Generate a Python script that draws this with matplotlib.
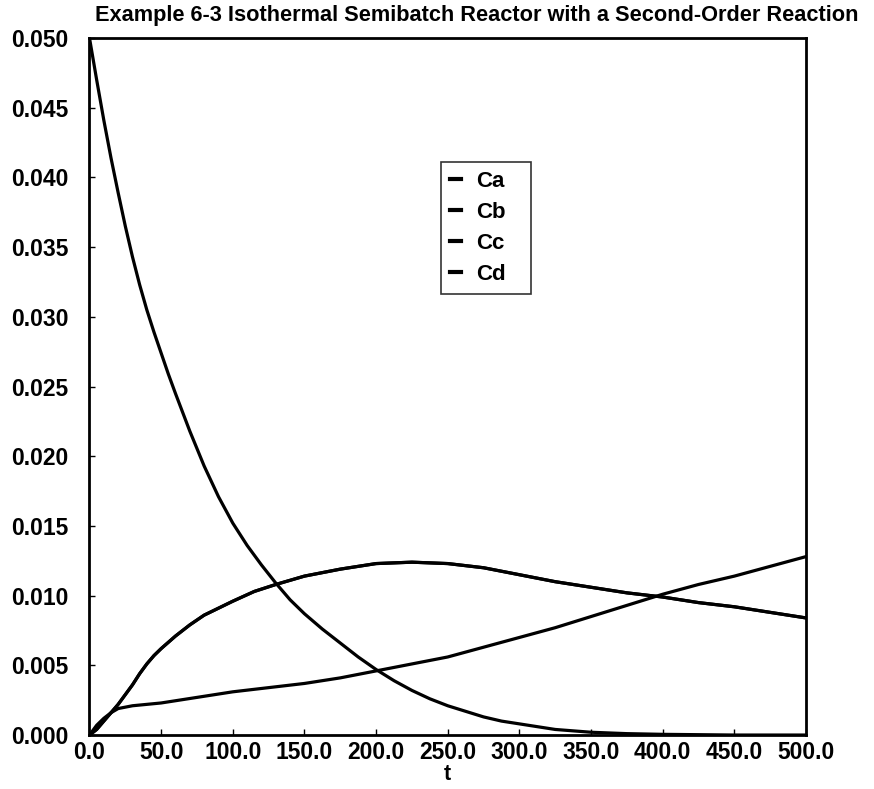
import matplotlib
matplotlib.use("Agg")
import matplotlib.pyplot as plt
from matplotlib.ticker import FixedLocator, FormatStrFormatter

plt.rcParams['font.family'] = ['Liberation Sans', 'DejaVu Sans']

title = "Example 6-3 Isothermal Semibatch Reactor with a Second-Order Reaction"
x_label = "t"

t_a = [0, 5, 10, 15, 20, 25, 30, 35, 40, 45, 50, 55, 60, 70, 80, 90, 100,
       110, 120, 130, 140, 150, 162.5, 175, 187.5, 200, 212.5, 225, 237.5,
       250, 262.5, 275, 287.5, 300, 325, 350, 375, 400, 450, 500]
ca = [0.0500, 0.0470, 0.0441, 0.0414, 0.0389, 0.0365, 0.0343, 0.0323, 0.0305,
      0.0289, 0.0274, 0.0259, 0.0245, 0.0218, 0.0193, 0.0171, 0.0152, 0.0136,
      0.0122, 0.0109, 0.0097, 0.0087, 0.0076, 0.0066, 0.0056, 0.0047, 0.0039,
      0.0032, 0.0026, 0.0021, 0.0017, 0.0013, 0.0010, 0.0008, 0.0004, 0.0002,
      0.0001, 0.00005, 0.0, 0.0]

t_b = [0, 5, 10, 15, 20, 30, 40, 50, 75, 100, 125, 150, 175, 200, 225, 250,
       275, 300, 325, 350, 375, 400, 425, 450, 475, 500]
cb = [0.0, 0.0007, 0.0012, 0.0016, 0.0019, 0.0021, 0.0022, 0.0023, 0.0027,
      0.0031, 0.0034, 0.0037, 0.0041, 0.0046, 0.0051, 0.0056, 0.0063, 0.0070,
      0.0077, 0.0085, 0.0093, 0.0101, 0.0108, 0.0114, 0.0121, 0.0128]

t_c = [0, 5, 10, 15, 20, 25, 30, 35, 40, 45, 50, 60, 70, 80, 90, 100, 115,
       130, 150, 175, 200, 225, 250, 275, 300, 325, 350, 375, 400, 425, 450,
       475, 500]
cc = [0.0, 0.0004, 0.0010, 0.0016, 0.0022, 0.0029, 0.0036, 0.0044, 0.0051,
      0.0057, 0.0062, 0.0071, 0.0079, 0.0086, 0.0091, 0.0096, 0.0103, 0.0108,
      0.0114, 0.0119, 0.0123, 0.0124, 0.0123, 0.0120, 0.0115, 0.0110, 0.0106,
      0.0102, 0.0099, 0.0095, 0.0092, 0.0088, 0.0084]
cd = list(cc)

x_ticks = [0, 50, 100, 150, 200, 250, 300, 350, 400, 450, 500]
y_ticks = [0.000, 0.005, 0.010, 0.015, 0.020, 0.025, 0.030, 0.035, 0.040,
           0.045, 0.050]

fig = plt.figure(figsize=(8.74, 7.89), dpi=100)
ax = fig.add_axes([0.1024, 0.0684, 0.8198, 0.8834])

lw = 2.3
ax.plot(t_a, ca, color='black', lw=lw, label='Ca')
ax.plot(t_b, cb, color='black', lw=lw, label='Cb')
ax.plot(t_c, cc, color='black', lw=lw, label='Cc')
ax.plot(t_c, cd, color='black', lw=lw, label='Cd')

ax.set_xlim(0, 500)
ax.set_ylim(0, 0.050)
ax.xaxis.set_major_locator(FixedLocator(x_ticks))
ax.yaxis.set_major_locator(FixedLocator(y_ticks))
ax.xaxis.set_major_formatter(FormatStrFormatter('%.1f'))
ax.yaxis.set_major_formatter(FormatStrFormatter('%.3f'))
ax.tick_params(axis='both', direction='in', length=4, width=1, labelsize=16.5)
ax.tick_params(axis='y', pad=15)
ax.tick_params(axis='x', pad=4)
for lab in ax.get_xticklabels() + ax.get_yticklabels():
    lab.set_fontweight('bold')
for side, sp in ax.spines.items():
    sp.set_linewidth(2.0)
    sp.set_color('black')

ax.set_xlabel(x_label, fontsize=15.5, fontweight='bold', labelpad=0)

fig.text(477 / 874, 1 - 15 / 789, title, ha='center', va='center',
         fontsize=15.7, fontweight='bold')

leg = ax.legend(loc='upper left', bbox_to_anchor=(0.4906, 0.634, 0.1256, 0.188),
                mode='expand', borderaxespad=0, frameon=True, fancybox=False,
                handlelength=0.5, handletextpad=0.7, labelspacing=0.45,
                borderpad=0.4, prop={'weight': 'bold', 'size': 16})
leg.get_frame().set_edgecolor('black')
leg.get_frame().set_linewidth(1.2)
for h in leg.get_lines():
    h.set_linewidth(3)

fig.savefig('out.png', dpi=100)
